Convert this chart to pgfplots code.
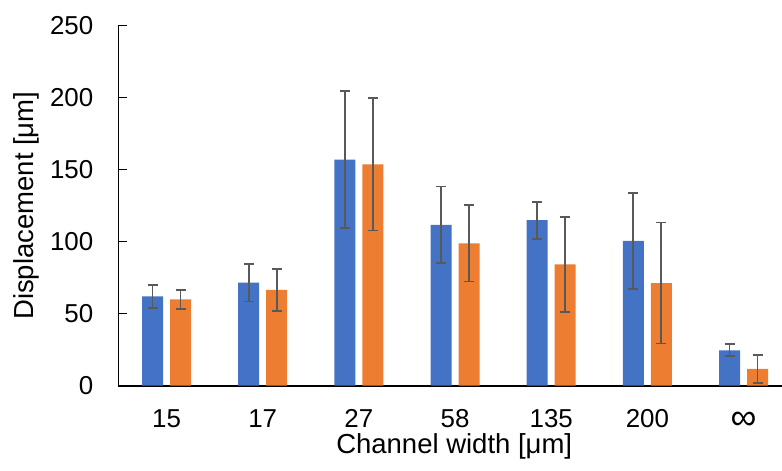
\documentclass[border=0pt]{standalone}
\usepackage{fontspec}
\setmainfont{Liberation Sans}
\usepackage{graphicx}
\usepackage{pgfplots}
\usepackage{pgfplotstable}
\pgfplotsset{compat=1.18}
\definecolor{xlblue}{HTML}{4472C4}
\definecolor{xlorange}{HTML}{ED7D31}
\definecolor{errgray}{HTML}{595959}

\pgfplotstableread{
x y e
0 62.0 8.0
1 71.5 13.0
2 157.0 47.7
3 111.7 26.6
4 114.9 12.8
5 100.5 33.2
6 24.6 4.2
}\blueseries

\pgfplotstableread{
x y e
0 60.0 6.5
1 66.5 14.5
2 153.7 45.9
3 98.9 26.6
4 84.3 33.1
5 71.3 42.0
6 11.6 9.6
}\orangeseries

\begin{document}
\begin{tikzpicture}
\begin{axis}[
  scale only axis,
  width=663.5bp, height=360bp,
  xmin=-0.5, xmax=6.4,
  ymin=0, ymax=250,
  enlargelimits=false,
  ybar=7bp, bar width=21bp,
  axis lines*=left,
  axis line style={line width=1.3bp, black},
  x axis line style={line width=2bp},
  xtick={0,1,2,3,4,5,6},
  xticklabels={15,17,27,58,135,200,{\raisebox{-2bp}{\scalebox{1.4}{∞}}}},
  ytick={0,50,100,150,200,250},
  tick align=inside,
  major tick length=9bp,
  y tick style={black, line width=1.3bp},
  x tick style={draw=none},
  /pgf/number format/assume math mode=true,
  tick label style={font=\fontsize{26}{30}\selectfont},
  yticklabel style={inner sep=0pt, anchor=east, xshift=-25bp},
  xticklabel style={inner sep=0pt, anchor=base, yshift=-41.3bp},
  label style={font=\fontsize{27.6}{32}\selectfont},
  xlabel={Channel width [μm]},
  xlabel style={inner sep=0pt, at={(axis description cs:0.506,0)}, anchor=base, yshift=-67.3bp},
  ylabel={Displacement [μm]},
  ylabel style={inner sep=0pt, at={(axis description cs:-0.1394,0.5)}, anchor=center},
  error bars/error bar style={line width=1.8bp, color=errgray},
  error bars/error mark options={rotate=90, mark size=5bp, line width=1.8bp, color=errgray},
]
\addplot[fill=xlblue, draw=none,
  error bars/.cd, y dir=both, y explicit]
  table[x=x, y=y, y error=e] {\blueseries};
\addplot[fill=xlorange, draw=none,
  error bars/.cd, y dir=both, y explicit]
  table[x=x, y=y, y error=e] {\orangeseries};
\end{axis}
\pgfresetboundingbox
\path[use as bounding box] (-118.5bp,-85.3bp) rectangle (663.5bp,385.7bp);
\end{tikzpicture}
\end{document}
